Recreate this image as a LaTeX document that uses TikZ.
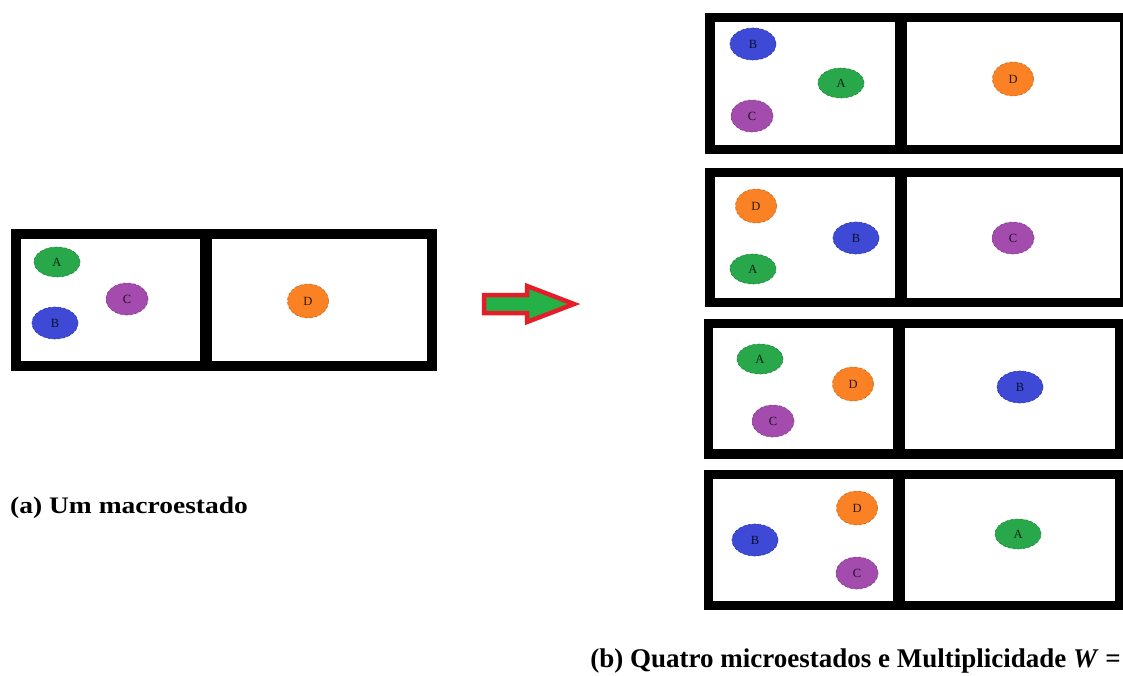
\documentclass[tikz,border=0pt]{standalone}
\usepackage{fontspec}
\setmainfont{Liberation Serif}
\usetikzlibrary{shapes.geometric}
\definecolor{bgreen}{RGB}{40,168,75}
\definecolor{bblue}{RGB}{62,74,214}
\definecolor{bpurple}{RGB}{163,76,174}
\definecolor{borange}{RGB}{250,130,36}
\definecolor{arrred}{RGB}{228,30,40}
\definecolor{arrgreen}{RGB}{36,178,72}
\tikzset{
  x=1pt, y=-1pt,
  ball/.style={ellipse, inner sep=0pt, fill=#1, draw=#1!80!black, densely dashed, line width=0.6pt,
    text=#1!20!black, font=\fontsize{12.5}{12.5}\selectfont},
  ballA/.style={ball=bgreen, minimum width=46pt, minimum height=30pt},
  ballB/.style={ball=bblue, minimum width=46pt, minimum height=32pt},
  ballC/.style={ball=bpurple, minimum width=42pt, minimum height=32pt},
  ballD/.style={ball=borange, minimum width=41pt, minimum height=34pt},
  frame/.style={draw=black, line width=10pt, line join=miter},
  divider/.style={draw=black, line width=12pt},
  caption/.style={inner sep=0pt, font=\bfseries},
}
\begin{document}
\begin{tikzpicture}
\useasboundingbox (0,0) rectangle (1123,675);
% ---------- left macrostate
\draw[frame] (16,233.5) rectangle (431.5,366);
\draw[divider] (206,233.5) -- (206,366);
\node[ballA] (la) at (57,262) {A};
\node[ballB] (lb) at (55,323) {B};
\node[ballC] (lc) at (127,299) {C};
\node[ballD] (ld) at (308,301) {D};
% ---------- arrow
\draw[draw=arrred, fill=arrgreen, line width=4.5pt, line join=miter]
  (484,295) -- (527,295) -- (527,286) -- (574,304) -- (527,322) -- (527,313) -- (484,313) -- cycle;
% ---------- box 1
\draw[frame, line width=9.5pt] (710,17.5) rectangle (1125,149.5);
\draw[divider] (901,17.5) -- (901,149.5);
\node[ballB] (b1) at (753,44) {B};
\node[ballA] (a1) at (841,83) {A};
\node[ballC] (c1) at (752,116) {C};
\node[ballD] (d1) at (1013,79) {D};
% ---------- box 2
\draw[frame, line width=9.5pt] (710,172.5) rectangle (1125,302.5);
\draw[divider] (901,172.5) -- (901,302.5);
\node[ballD] (d2) at (756,206) {D};
\node[ballB] (b2) at (856,238) {B};
\node[ballA] (a2) at (753,269) {A};
\node[ballC] (c2) at (1013,238) {C};
% ---------- box 3
\draw[frame, line width=9.5pt] (708.5,323.5) rectangle (1119.5,454);
\draw[divider] (899,323.5) -- (899,454);
\node[ballA] (a3) at (760,359) {A};
\node[ballD] (d3) at (853,384) {D};
\node[ballC] (c3) at (773,421) {C};
\node[ballB] (b3) at (1020,387) {B};
% ---------- box 4
\draw[frame, line width=9.5pt] (708.5,474.5) rectangle (1119.5,605.5);
\draw[divider] (899,474.5) -- (899,605.5);
\node[ballB] (b4) at (755,540) {B};
\node[ballD] (d4) at (857,508) {D};
\node[ballC] (c4) at (857,573) {C};
\node[ballA] (a4) at (1018,534) {A};
% ---------- captions
\node[caption, anchor=base west] (capa) at (10,513)
  {\fontsize{23.7}{24}\selectfont\scalebox{1.16}[1]{(a) Um macroestado}};
\node[caption, anchor=base east] (capb) at (1121,667)
  {\fontsize{27}{28}\selectfont (b) Quatro microestados e Multiplicidade \textit{W} =};
\end{tikzpicture}
\end{document}
